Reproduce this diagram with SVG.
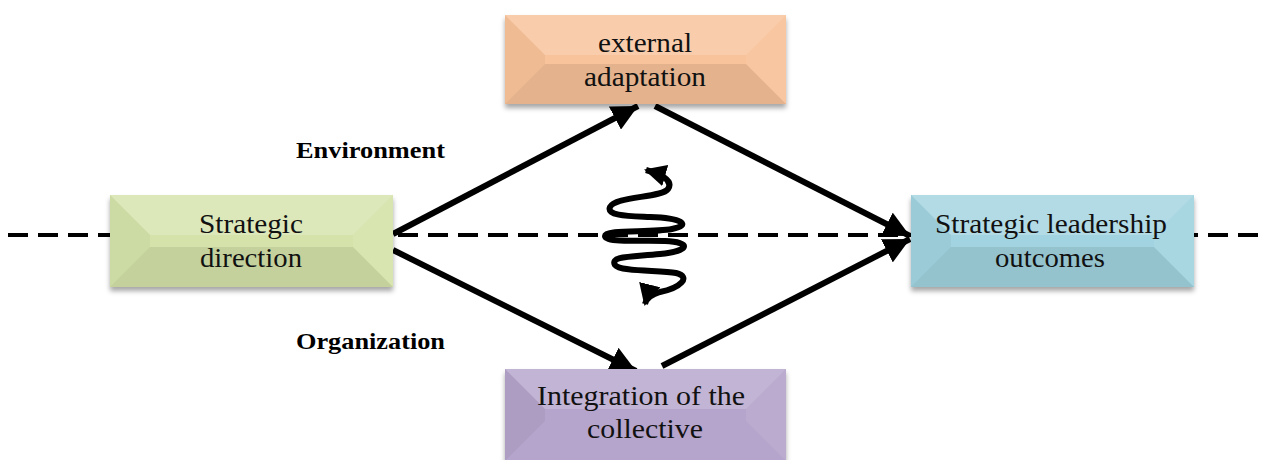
<svg xmlns="http://www.w3.org/2000/svg" width="1268" height="460" viewBox="0 0 1268 460">
<style>
.lbl{font-family:"Liberation Serif","Times New Roman",serif;font-size:28px;fill:#111;text-anchor:middle}
.side{font-family:"Liberation Serif","Times New Roman",serif;font-size:23px;font-weight:bold;fill:#000}
.conn{stroke:#000;stroke-width:6;fill:none}
.hl{fill:#fff;opacity:0.18}
.dk{fill:#000;opacity:0.04}
.dk2{fill:#000;opacity:0.08}
.hr{fill:#fff;opacity:0.08}
</style>
<defs>
<filter id="sh" x="-10%" y="-10%" width="120%" height="130%">
<feDropShadow dx="0" dy="4" stdDeviation="2.5" flood-color="#000" flood-opacity="0.35"/>
</filter>
<marker id="ah" markerUnits="userSpaceOnUse" markerWidth="30" markerHeight="26" refX="26" refY="13" orient="auto">
<path d="M0,0 L26,13 L0,26 Z" fill="#000"/>
</marker>
<marker id="ahs" markerUnits="userSpaceOnUse" markerWidth="24" markerHeight="22" refX="20" refY="11" orient="auto-start-reverse">
<path d="M0,0 L22,11 L0,22 Z" fill="#000"/>
</marker>
</defs>
<rect width="1268" height="460" fill="#fff"/>
<g id="axis">
<line x1="8" y1="235" x2="1268" y2="235" stroke="#000" stroke-width="4" stroke-dasharray="20,10"/>
</g>
<g id="connectors">
<line class="conn" x1="393" y1="234" x2="638" y2="106" marker-end="url(#ah)"/>
<line class="conn" x1="655" y1="106" x2="910" y2="236" marker-end="url(#ah)"/>
<line class="conn" x1="393" y1="250" x2="636" y2="371" marker-end="url(#ah)"/>
<line class="conn" x1="662" y1="366" x2="910" y2="239" marker-end="url(#ah)"/>
<path class="conn" stroke-width="5.5" marker-start="url(#ahs)" marker-end="url(#ahs)" d="M646,170 C660,174 674,180 668,189 C662,198 615,196 610,207 C606,216 630,216 650,217 C682,218 692,225 672,229 C650,233 605,229 605,236 C605,243 640,240 665,241 C692,242 690,251 660,254 C630,257 610,256 615,265 C620,272 660,270 676,273 C692,277 680,288 660,292 C650,295 646,300 645,304"/>
</g>
<g id="node-external">
<g filter="url(#sh)">
<rect x="505" y="15" width="281" height="89" fill="#F8C39A"/>
</g>
<polygon class="hl" points="505,15 786,15 746,55 545,55"/>
<polygon class="dk" points="505,15 545,55 545,64 505,104"/>
<polygon class="dk2" points="505,104 545,64 746,64 786,104"/>
<polygon class="hr" points="786,15 746,55 746,64 786,104"/>
<text class="lbl" x="645" y="52" textLength="94" lengthAdjust="spacingAndGlyphs">external</text>
<text class="lbl" x="645" y="86" textLength="122" lengthAdjust="spacingAndGlyphs">adaptation</text>
</g>
<g id="node-direction">
<g filter="url(#sh)">
<rect x="110" y="195" width="283" height="92" fill="#D5E3AA"/>
</g>
<polygon class="hl" points="110,195 393,195 353,235 150,235"/>
<polygon class="dk" points="110,195 150,235 150,247 110,287"/>
<polygon class="dk2" points="110,287 150,247 353,247 393,287"/>
<polygon class="hr" points="393,195 353,235 353,247 393,287"/>
<text class="lbl" x="251" y="233" textLength="104" lengthAdjust="spacingAndGlyphs">Strategic</text>
<text class="lbl" x="251" y="267" textLength="102" lengthAdjust="spacingAndGlyphs">direction</text>
</g>
<g id="node-outcomes">
<g filter="url(#sh)">
<rect x="911" y="195" width="283" height="92" fill="#A1D4E0"/>
</g>
<polygon class="hl" points="911,195 1194,195 1154,235 951,235"/>
<polygon class="dk" points="911,195 951,235 951,247 911,287"/>
<polygon class="dk2" points="911,287 951,247 1154,247 1194,287"/>
<polygon class="hr" points="1194,195 1154,235 1154,247 1194,287"/>
<text class="lbl" x="1051" y="233" textLength="232" lengthAdjust="spacingAndGlyphs">Strategic leadership</text>
<text class="lbl" x="1050" y="267" textLength="110" lengthAdjust="spacingAndGlyphs">outcomes</text>
</g>
<g id="node-integration">
<g filter="url(#sh)">
<rect x="505" y="369" width="281" height="92" fill="#B5A4CB"/>
</g>
<polygon class="hl" points="505,369 786,369 746,409 545,409"/>
<polygon class="dk" points="505,369 545,409 545,421 505,461"/>
<polygon class="hr" points="786,369 746,409 746,421 786,461"/>
<text class="lbl" x="641" y="405" textLength="208" lengthAdjust="spacingAndGlyphs">Integration of the</text>
<text class="lbl" x="645" y="438" textLength="116" lengthAdjust="spacingAndGlyphs">collective</text>
</g>
<g id="labels">
<text class="side" x="296" y="158" textLength="149" lengthAdjust="spacingAndGlyphs">Environment</text>
<text class="side" x="296" y="349" textLength="149" lengthAdjust="spacingAndGlyphs">Organization</text>
</g>
</svg>
